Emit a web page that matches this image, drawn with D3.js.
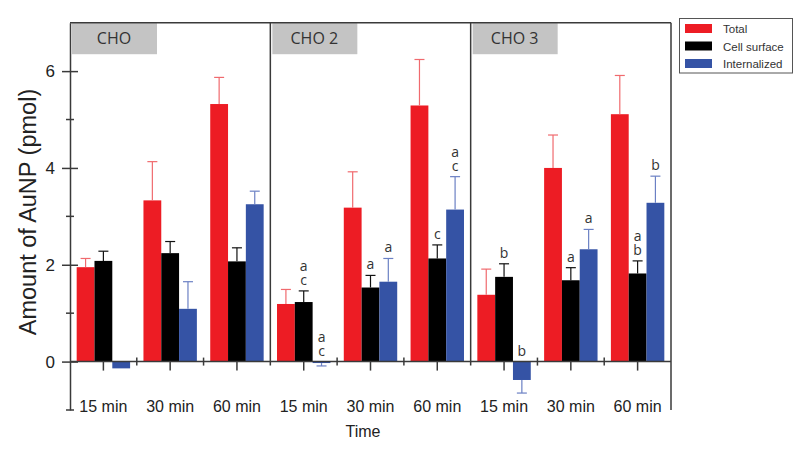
<!DOCTYPE html>
<html>
<head>
<meta charset="utf-8">
<script src="https://cdn.jsdelivr.net/npm/d3@7"></script>
<style>
  body { margin: 0; background: #fff; }
  svg { display: block; }
</style>
</head>
<body>
<svg id="chart" width="800" height="457"></svg>
<script>
// data
var panels = ["CHO", "CHO 2", "CHO 3"];
var times = ["15 min", "30 min", "60 min"];
var series = ["Total", "Cell surface", "Internalized"];

// values[panel][time]
var total = [[1.95, 3.33, 5.32], [1.19, 3.18, 5.29], [1.38, 4.00, 5.11]];
var totalErr = [[0.18, 0.80, 0.55], [0.30, 0.74, 0.95], [0.53, 0.68, 0.80]];
var cell = [[2.08, 2.24, 2.07], [1.23, 1.53, 2.13], [1.75, 1.68, 1.82]];
var cellErr = [[0.20, 0.24, 0.28], [0.23, 0.25, 0.28], [0.27, 0.26, 0.26]];
var intern = [[-0.14, 1.09, 3.25], [-0.03, 1.65, 3.14], [-0.38, 2.32, 3.28]];
var internErr = [[0, 0.56, 0.27], [0.06, 0.48, 0.68], [0.27, 0.41, 0.55]];

// significance letters: [panel, time, series, letters]
var letters = [
  [1, 0, 1, "a c"], [1, 0, 2, "a c"], [1, 1, 1, "a"], [1, 1, 2, "a"],
  [1, 2, 1, "c"], [1, 2, 2, "a c"],
  [2, 0, 1, "b"], [2, 0, 2, "b"], [2, 1, 1, "a"], [2, 1, 2, "a"],
  [2, 2, 1, "a b"], [2, 2, 2, "b"]
];

var yTicks = [0, 2, 4, 6];
var yMinor = [-1, 1, 3, 5];

var colors = ["#ed1c24", "#000000", "#3553a5"];
var errColors = ["#f06a6e", "#111111", "#6b80c4"];
var values = [total, cell, intern];
var errs = [totalErr, cellErr, internErr];

var svg = d3.select("#chart");
var plotLeft = 70, plotRight = 671, plotTop = 22.7, plotBottom = 410;
var frame = "#3a3a3a";

var y = d3.scaleLinear().domain([-1, 7]).range([plotBottom, plotTop]);
var xPanel = d3.scaleBand().domain(panels).range([plotLeft, plotRight]);
var xTime = d3.scaleBand().domain(times).range([0, xPanel.bandwidth()]);
var xSeries = d3.scaleBand().domain(series).range([0, xTime.bandwidth()]).paddingOuter(0.375);

// flat list of bars
var bars = [];
panels.forEach(function (p, pi) {
  times.forEach(function (t, ti) {
    series.forEach(function (s, si) {
      bars.push({ p: p, pi: pi, t: t, ti: ti, s: s, si: si,
        v: values[si][pi][ti], e: errs[si][pi][ti] });
    });
  });
});

function barX(d) { return xPanel(d.p) + xTime(d.t) + xSeries(d.s); }
function barCx(d) { return barX(d) + xSeries.bandwidth() / 2; }

// gray panel header boxes
var head = svg.append("g");
head.selectAll("rect").data(panels).enter().append("rect")
  .attr("x", function (d) { return xPanel(d) + 2; })
  .attr("y", plotTop + 0.5)
  .attr("width", 85)
  .attr("height", 31)
  .attr("fill", "#c4c4c4");
head.selectAll("text").data(panels).enter().append("text")
  .attr("x", function (d) { return xPanel(d) + 44; })
  .attr("y", 44)
  .attr("text-anchor", "middle")
  .attr("font-family", "Open Sans")
  .attr("font-size", 16)
  .attr("fill", "#333")
  .text(function (d) { return d; });

// bars
svg.append("g").selectAll("rect").data(bars).enter().append("rect")
  .attr("x", barX)
  .attr("y", function (d) { return y(Math.max(0, d.v)); })
  .attr("width", xSeries.bandwidth())
  .attr("height", function (d) { return Math.abs(y(d.v) - y(0)); })
  .attr("fill", function (d) { return colors[d.si]; });

// error bars (one side only)
var eb = svg.append("g").selectAll("g").data(bars.filter(function (d) { return d.e > 0; }))
  .enter().append("g")
  .attr("stroke", function (d) { return errColors[d.si]; })
  .attr("stroke-width", 1.2);
eb.append("line")
  .attr("x1", barCx).attr("x2", barCx)
  .attr("y1", function (d) { return y(d.v); })
  .attr("y2", function (d) { return y(d.v + (d.v < 0 ? -d.e : d.e)); });
eb.append("line")
  .attr("x1", function (d) { return barCx(d) - 5; })
  .attr("x2", function (d) { return barCx(d) + 5; })
  .attr("y1", function (d) { return y(d.v + (d.v < 0 ? -d.e : d.e)); })
  .attr("y2", function (d) { return y(d.v + (d.v < 0 ? -d.e : d.e)); });

// letters above bars, stacked as tspans in one text
var lab = svg.append("g")
  .attr("font-family", "Open Sans")
  .attr("font-size", 14)
  .attr("fill", "#333")
  .attr("text-anchor", "middle");
letters.forEach(function (l) {
  var d = bars.filter(function (b) { return b.pi == l[0] && b.ti == l[1] && b.si == l[2]; })[0];
  var anchor = d.v > 0 ? y(d.v + d.e) : y(0);
  var parts = l[3].split(" ");
  var txt = lab.append("text")
    .attr("x", barCx(d))
    .attr("y", anchor - 6 - (parts.length - 1) * 14);
  parts.forEach(function (c, i) {
    txt.append("tspan")
      .attr("x", barCx(d))
      .attr("dy", i == 0 ? 0 : 14)
      .text(c);
  });
});

// frame lines
var fr = svg.append("g").attr("stroke", frame).attr("stroke-width", 1.5).attr("fill", "none");
fr.append("line").attr("x1", plotLeft).attr("x2", plotRight).attr("y1", plotTop).attr("y2", plotTop);
fr.append("line").attr("x1", plotRight).attr("x2", plotRight).attr("y1", plotTop).attr("y2", plotBottom);
fr.selectAll(".div").data(panels.slice(1)).enter().append("line")
  .attr("x1", function (d) { return xPanel(d); })
  .attr("x2", function (d) { return xPanel(d); })
  .attr("y1", plotTop).attr("y2", y(0) + 4);
fr.append("line").attr("x1", plotLeft).attr("x2", plotRight).attr("y1", y(0)).attr("y2", y(0));

// x ticks: down at group centres, short crossing ticks between groups
var groups = [];
panels.forEach(function (p) { times.forEach(function (t, ti) { groups.push({ p: p, t: t, ti: ti }); }); });
fr.selectAll(".xt").data(groups).enter().append("line")
  .attr("x1", function (d) { return xPanel(d.p) + xTime(d.t) + xTime.bandwidth() / 2; })
  .attr("x2", function (d) { return xPanel(d.p) + xTime(d.t) + xTime.bandwidth() / 2; })
  .attr("y1", y(0)).attr("y2", y(0) + 9);
fr.selectAll(".xb").data(groups.filter(function (d) { return d.ti > 0; })).enter().append("line")
  .attr("x1", function (d) { return xPanel(d.p) + xTime(d.t); })
  .attr("x2", function (d) { return xPanel(d.p) + xTime(d.t); })
  .attr("y1", y(0) - 4).attr("y2", y(0) + 4);

// x labels
svg.append("g").selectAll("text").data(groups).enter().append("text")
  .attr("x", function (d) { return xPanel(d.p) + xTime(d.t) + xTime.bandwidth() / 2; })
  .attr("y", 411.5)
  .attr("text-anchor", "middle")
  .attr("font-family", "Liberation Sans")
  .attr("font-size", 16)
  .attr("fill", "#222")
  .text(function (d) { return d.t; });

svg.append("text")
  .attr("x", 363).attr("y", 437)
  .attr("text-anchor", "middle")
  .attr("font-family", "Liberation Sans")
  .attr("font-size", 16)
  .attr("fill", "#222")
  .text("Time");

// y axis
var yAxis = svg.append("g")
  .attr("transform", "translate(" + plotLeft + ",0)")
  .call(d3.axisLeft(y).tickValues(yTicks).tickSize(8).tickPadding(7).tickSizeOuter(0));
yAxis.select(".domain").attr("stroke", frame).attr("stroke-width", 1.5);
yAxis.selectAll(".tick line").attr("x1", 8).attr("stroke", frame).attr("stroke-width", 1.5);
yAxis.selectAll(".tick text")
  .attr("font-family", "Liberation Sans")
  .attr("font-size", 17)
  .attr("fill", "#222");
yAxis.selectAll(".minor").data(yMinor).enter().append("line")
  .attr("x1", -4).attr("x2", 4)
  .attr("y1", function (d) { return y(d); })
  .attr("y2", function (d) { return y(d); })
  .attr("stroke", frame).attr("stroke-width", 1.5);

svg.append("text")
  .attr("transform", "translate(36,212) rotate(-90)")
  .attr("text-anchor", "middle")
  .attr("font-family", "Liberation Sans")
  .attr("font-size", 23.5)
  .attr("fill", "#222")
  .text("Amount of AuNP (pmol)");

// legend
var lg = svg.append("g");
lg.append("rect")
  .attr("x", 679.5).attr("y", 18.5).attr("width", 113).attr("height", 54.5)
  .attr("fill", "#fff").attr("stroke", "#555").attr("stroke-width", 1);
var li = lg.selectAll("g.item").data(series).enter().append("g")
  .attr("transform", function (d, i) { return "translate(685," + (24 + i * 17.5) + ")"; });
li.append("rect").attr("width", 27).attr("height", 9)
  .attr("fill", function (d, i) { return colors[i]; });
li.append("text")
  .attr("x", 38).attr("y", 9)
  .attr("font-family", "Liberation Sans")
  .attr("font-size", 11.5)
  .attr("fill", "#333")
  .text(function (d) { return d; });
</script>
</body>
</html>
